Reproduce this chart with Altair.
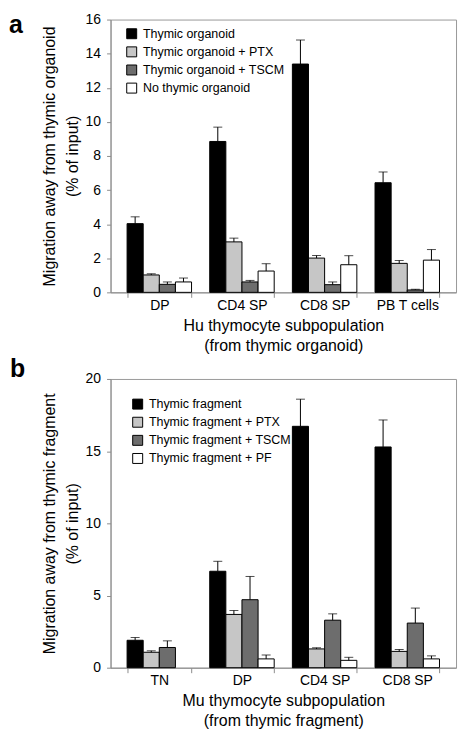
import altair as alt
import pandas as pd

# ---------------- Panel a data ----------------
cats_a = ["DP", "CD4 SP", "CD8 SP", "PB T cells"]
series_a = ["Thymic organoid", "Thymic organoid + PTX", "Thymic organoid + TSCM", "No thymic organoid"]
a_organoid = [4.03, 8.85, 13.39, 6.43]
a_organoid_err = [0.40, 0.84, 1.41, 0.63]
a_ptx = [1.02, 2.96, 2.01, 1.70]
a_ptx_err = [0.07, 0.22, 0.15, 0.17]
a_tscm = [0.47, 0.61, 0.45, 0.14]
a_tscm_err = [0.14, 0.09, 0.16, 0.04]
a_none = [0.61, 1.25, 1.62, 1.89]
a_none_err = [0.23, 0.43, 0.53, 0.62]

# ---------------- Panel b data ----------------
cats_b = ["TN", "DP", "CD4 SP", "CD8 SP"]
series_b = ["Thymic fragment", "Thymic fragment + PTX", "Thymic fragment + TSCM", "Thymic fragment + PF"]
b_fragment = [1.90, 6.68, 16.72, 15.29]
b_fragment_err = [0.19, 0.69, 1.88, 1.87]
b_ptx = [1.07, 3.69, 1.30, 1.13]
b_ptx_err = [0.10, 0.27, 0.08, 0.13]
b_tscm = [1.40, 4.71, 3.29, 3.09]
b_tscm_err = [0.46, 1.61, 0.44, 1.04]
b_pf = [None, 0.61, 0.51, 0.61]
b_pf_err = [None, 0.27, 0.21, 0.21]

bar_colors = ["#000000", "#c6c6c6", "#6d6d6d", "#ffffff"]
FONT = "Liberation Sans"


def build_df(cats, series, vals, errs):
    rows = []
    for s, v_list, e_list in zip(series, vals, errs):
        for c, v, e in zip(cats, v_list, e_list):
            if v is None:
                continue
            rows.append({"cat": c, "series": s, "value": v, "top": v + e})
    return pd.DataFrame(rows)


df_a = build_df(cats_a, series_a, [a_organoid, a_ptx, a_tscm, a_none],
                [a_organoid_err, a_ptx_err, a_tscm_err, a_none_err])
df_b = build_df(cats_b, series_b, [b_fragment, b_ptx, b_tscm, b_pf],
                [b_fragment_err, b_ptx_err, b_tscm_err, b_pf_err])


def panel(df, cats, series, letter, ymax, yvals, xtitle, ytitle, height,
          legend_x, legend_y, letter_x, letter_y):
    base = alt.Chart(df)
    x = alt.X("cat:N", sort=cats,
              scale=alt.Scale(paddingInner=0.22, paddingOuter=0.2),
              axis=alt.Axis(title=xtitle, labelAngle=0, tickBand="extent",
                            tickSize=5, labelPadding=1, titlePadding=5,
                            titleLineHeight=20, labelFontSize=14, titleFontSize=16))
    xo = alt.XOffset("series:N", sort=series,
                     scale=alt.Scale(paddingInner=0, paddingOuter=0))
    y_axis = alt.Axis(values=yvals, title=ytitle, grid=False, tickSize=4,
                      labelPadding=6, titlePadding=5, titleLineHeight=23,
                      labelFontSize=14, titleFontSize=16)
    yscale = alt.Scale(domain=[0, ymax], nice=False)
    bars = base.mark_bar(stroke="black", strokeWidth=1).encode(
        x=x, xOffset=xo,
        y=alt.Y("value:Q", scale=yscale, axis=y_axis),
        color=alt.Color("series:N", sort=series, title=None,
                        scale=alt.Scale(domain=series, range=bar_colors),
                        legend=alt.Legend(orient="none", legendX=legend_x, legendY=legend_y,
                                          symbolType="square", symbolSize=100,
                                          symbolStrokeColor="black", symbolStrokeWidth=1,
                                          labelFont=FONT, labelFontSize=12.5, labelColor="black",
                                          labelLimit=300,
                                          rowPadding=3.2, padding=0, labelOffset=5)),
    )
    rules = base.mark_rule(color="black", strokeWidth=1).encode(
        x=x, xOffset=xo,
        y=alt.Y("value:Q", scale=yscale, axis=y_axis),
        y2="top:Q",
    )
    caps = base.mark_tick(color="black", size=9, thickness=1).encode(
        x=x, xOffset=xo,
        y=alt.Y("top:Q", scale=yscale, axis=y_axis),
    )
    lab = alt.Chart(pd.DataFrame({"t": [letter]})).mark_text(
        align="left", baseline="alphabetic", font=FONT, fontSize=25,
        fontWeight="bold", color="black"
    ).encode(x=alt.value(letter_x), y=alt.value(letter_y), text="t:N")
    return alt.layer(bars, rules, caps, lab).properties(width=347, height=height)


chart_a = panel(df_a, cats_a, series_a, "a", 16, list(range(0, 17, 2)),
                ["Hu thymocyte subpopulation", "(from thymic organoid)"],
                ["Migration away from thymic organoid", "(% of input)"],
                274, 15, 8, -102, 14)
chart_b = panel(df_b, cats_b, series_b, "b", 20, [0, 5, 10, 15, 20],
                ["Mu thymocyte subpopulation", "(from thymic fragment)"],
                ["Migration away from thymic fragment", "(% of input)"],
                290, 21, 19, -101, -2)

chart = alt.vconcat(chart_a, chart_b, spacing=2).resolve_scale(
    color="independent", x="independent", y="independent", xOffset="independent"
).resolve_legend(color="independent").properties(
    padding={"left": 0, "top": 2, "right": 5, "bottom": 5}
).configure_view(stroke="#999999").configure_axis(
    domainColor="#8c8c8c", tickColor="#8c8c8c", labelColor="black", titleColor="black",
    labelFont=FONT, titleFont=FONT, titleFontWeight="normal"
)

chart.save("out.html", embed_options={"renderer": "svg", "actions": False})
